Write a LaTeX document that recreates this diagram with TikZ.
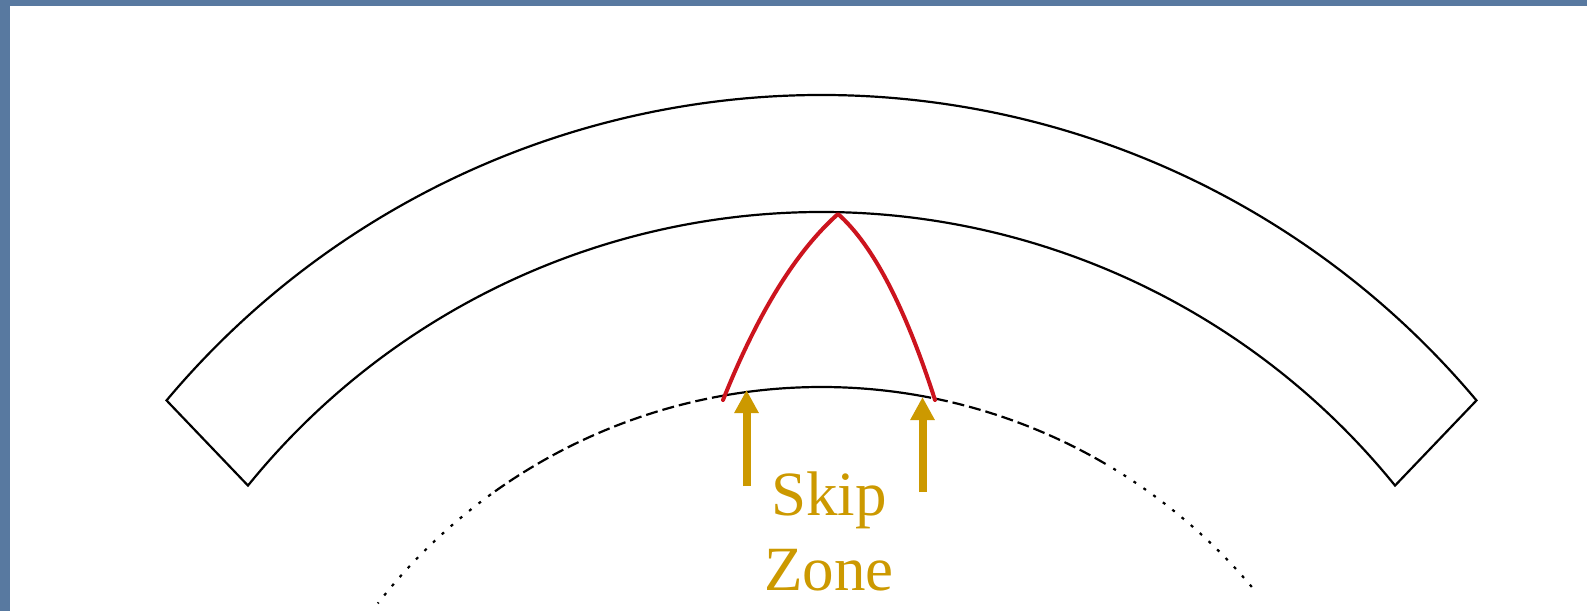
\documentclass[tikz,border=0pt]{standalone}
\usepackage{fontspec}
\setmainfont{Liberation Serif}
\usetikzlibrary{arrows.meta,calc}
\definecolor{bgblue}{RGB}{88,121,160}
\definecolor{gold}{RGB}{204,153,0}
\definecolor{raycol}{RGB}{204,20,30}
\begin{document}
\begin{tikzpicture}[x=1pt,y=1pt,
  layer/.style={line width=2.2pt,black},
  ray/.style={line width=4pt,raycol,line cap=round,line join=round},
  marker/.style={line width=8pt,gold,-{Triangle[width=23pt,length=23pt]}},
  lbl/.style={gold,font=\fontsize{63}{75}\selectfont,align=center,inner sep=0pt}]
\fill[bgblue] (0,0) rectangle (1587,-611);
\fill[white] (10,-6) rectangle (1587,-611);
\useasboundingbox (0,0) rectangle (1587,-611);
\coordinate (C) at (821.5,-950);
% ionospheric band
\draw[layer,line join=miter] ($(C)+(140:855)$) arc[start angle=140,end angle=40,radius=855pt]
  -- ($(C)+(39:738)$) arc[start angle=39,end angle=141,radius=738pt] -- cycle;
% ground (dotted arc)
\draw[layer] ($(C)+(100:563)$) arc[start angle=100,end angle=80,radius=563pt];
\draw[layer,dash pattern=on 12pt off 5pt] ($(C)+(100:563)$) arc[start angle=100,end angle=126,radius=563pt];
\draw[layer,dash pattern=on 12pt off 5pt] ($(C)+(80:563)$) arc[start angle=80,end angle=60,radius=563pt];
\draw[layer,dash pattern=on 3pt off 9pt] ($(C)+(126:563)$) arc[start angle=126,end angle=142,radius=563pt];
\draw[layer,dash pattern=on 3pt off 9pt] ($(C)+(60:563)$) arc[start angle=60,end angle=40,radius=563pt];
% ray
\coordinate (tx) at (723,-400);
\coordinate (peak) at (838,-214);
\coordinate (rx) at (935,-400);
\draw[ray] (tx) .. controls (757.7,-313.3) and (796,-251.3) .. (peak)
  .. controls (872.7,-244.7) and (905,-306.7) .. (rx);
% skip zone markers
\coordinate (a1) at (746.5,-486);
\coordinate (a1t) at (746.5,-390);
\coordinate (a2) at (922.5,-492);
\coordinate (a2t) at (922.5,-397);
\draw[marker] (a1) -- (a1t);
\draw[marker] (a2) -- (a2t);
\node[lbl,anchor=base] (skip) at (829,-590) {Skip\\Zone};
\end{tikzpicture}
\end{document}
